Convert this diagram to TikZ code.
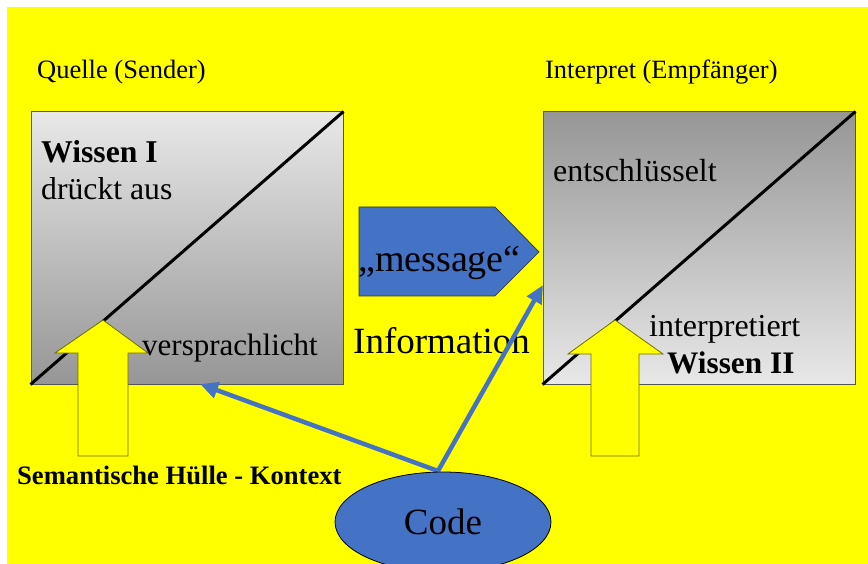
\documentclass[tikz,border=0pt]{standalone}
\usepackage{fontspec}
\setmainfont{Liberation Serif}
\usetikzlibrary{arrows.meta,shapes.geometric}
\definecolor{bgyellow}{HTML}{FFFF00}
\definecolor{codeblue}{HTML}{4472C4}
\definecolor{boxedge}{HTML}{555555}
\definecolor{arrowedge}{HTML}{6E6E00}
\definecolor{lightgray}{HTML}{E8E8E8}
\definecolor{darkgray}{HTML}{969696}
\newcommand{\txtsize}[1]{\fontsize{#1}{#1}\selectfont}

\begin{document}
\begin{tikzpicture}[x=1pt,y=-1pt,
  box/.style={rectangle, draw=boxedge, line width=1pt, minimum width=312pt,
              minimum height=272pt, inner sep=0pt},
  diag/.style={line width=3pt, black},
  liftarrow/.style={fill=bgyellow, draw=arrowedge, line width=0.8pt},
  codearrow/.style={draw=codeblue, line width=4.5pt,
                    -{Triangle[length=18pt,width=16pt]}},
  lbl/.style={anchor=base west, inner sep=0pt, text=black},
]
% canvas
\useasboundingbox (0,0) rectangle (868,564);
\fill[white] (0,0) rectangle (868,564);
\fill[bgyellow] (7,7) rectangle (868,564);

% headings
\node[lbl, font=\txtsize{26.5}] (srchead) at (37,79) {Quelle (Sender)};
\node[lbl, font=\txtsize{26.4}] (rcvhead) at (545,79) {Interpret (Empfänger)};

% sender and receiver boxes
\node[box, top color=lightgray, bottom color=darkgray] (lbox) at (187,248) {};
\node[box, top color=darkgray, bottom color=lightgray] (rbox) at (699,248) {};
\draw[diag] (lbox.south west) -- (lbox.north east);
\draw[diag] (rbox.south west) -- (rbox.north east);

% box texts
\node[lbl, font=\bfseries\txtsize{31.7}] (wissen1) at (41,163) {Wissen I};
\node[lbl, font=\txtsize{31.7}] (drueckt) at (41,200) {drückt aus};
\node[lbl, font=\txtsize{31}] (verspr) at (142,355) {versprachlicht};
\node[lbl, font=\txtsize{32}] (entschl) at (553,182) {entschlüsselt};
\node[lbl, font=\txtsize{32}] (interp) at (649,337) {interpretiert};
\node[lbl, font=\bfseries\txtsize{31.3}] (wissen2) at (667,373) {Wissen II};

% context arrows
\draw[liftarrow] (103,320) -- (148,353) -- (128,353) -- (128,456)
  -- (78,456) -- (78,353) -- (55,353) -- cycle;
\draw[liftarrow] (615,320) -- (663,354) -- (639,354) -- (639,456)
  -- (591,456) -- (591,354) -- (568,354) -- cycle;
\node[lbl, font=\bfseries\txtsize{26.6}] (kontext) at (17,484)
  {Semantische Hülle - Kontext};

% message pentagon
\coordinate (msgNW) at (359,207);
\coordinate (msgNE) at (495,207);
\coordinate (msgTip) at (539,252);
\coordinate (msgSE) at (495,296);
\coordinate (msgSW) at (359,296);
\draw[fill=codeblue, draw=black!80, line width=0.7pt]
  (msgNW) -- (msgNE) -- (msgTip) -- (msgSE) -- (msgSW) -- cycle;
\node[lbl, font=\txtsize{38}] (message) at (358,272) {„message“};

\node[lbl, font=\txtsize{37}] (info) at (353,353) {Information};

% code links
\coordinate (fork) at (438,471);
\coordinate (lhit) at (200,384);
\coordinate (rhit) at (543,285);
\draw[codearrow] (fork) -- (lhit);
\draw[codearrow] (fork) -- (rhit);

% code ellipse
\node[ellipse, fill=codeblue, draw=black, line width=0.8pt,
      minimum width=216pt, minimum height=100pt, inner sep=0pt,
      font=\txtsize{37}] (code) at (443,522) {Code};
\end{tikzpicture}
\end{document}
